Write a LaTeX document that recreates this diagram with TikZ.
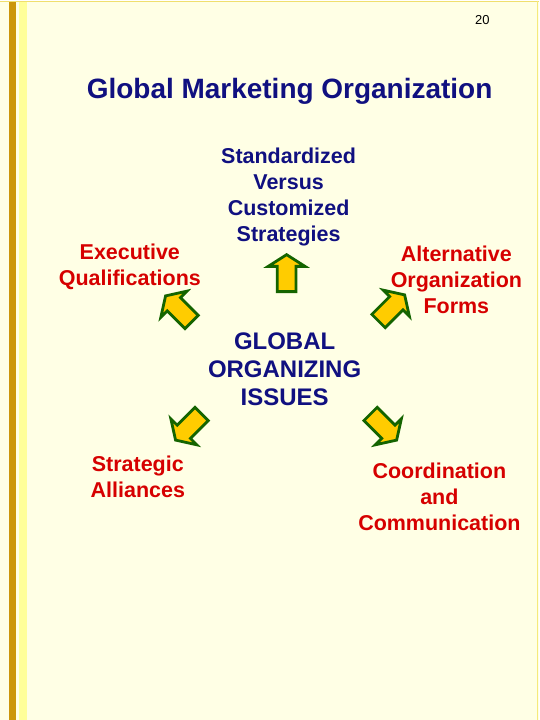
\documentclass[tikz,border=0pt]{standalone}
\usepackage{fontspec}
\setmainfont{Liberation Sans}
\usetikzlibrary{shapes.arrows, positioning}

\definecolor{slidebg}{RGB}{255,255,229}
\definecolor{stripegold}{RGB}{204,150,10}
\definecolor{stripelight}{RGB}{255,255,153}
\definecolor{textblue}{RGB}{16,16,128}
\definecolor{textred}{RGB}{214,0,0}
\definecolor{arrowfill}{RGB}{255,204,0}
\definecolor{arrowline}{RGB}{20,100,0}

\begin{document}
\begin{tikzpicture}[x = 1pt, y = -1pt, % pixel grid, y downwards
                inner sep = 0pt, align = center
            ]

            \tikzstyle{label}=[font = \bfseries\fontsize{21.5}{26}\selectfont]
            \tikzstyle{blockarrow}=[single arrow, draw = arrowline, fill = arrowfill,
            line width = 2.8pt, inner sep = 8pt, minimum height = 37pt,
            single arrow head extend = 9pt, single arrow tip angle = 115]

            % slide background and border stripes
            \fill[slidebg] (0,0) rectangle (540,720);
            \fill[stripegold] (9,0) rectangle (16,720);
            \fill[stripelight] (19,0) rectangle (27,720);
            \draw[stripelight!70!stripegold, line width = 1pt] (0.5,0.5) -- (539.5,0.5);
            \draw[stripelight!80!stripegold, line width = 1pt] (538,0) -- (538,720);

            \node (page) at (483,20) {\fontsize{13}{15}\selectfont 20};
            \node[textblue, font = \bfseries\fontsize{28}{32}\selectfont] (title) at (290,91)
            {Global Marketing Organization};

            \node[label, textblue, font = \bfseries\fontsize{24}{28}\selectfont] (hub)
            at (285,369) {GLOBAL\\ORGANIZING\\ISSUES};

            \node[label, textred] (exec) at (130,267) {Executive\\Qualifications};
            \node[label, textblue] (std) at (289,197) {Standardized\\Versus\\Customized\\Strategies};
            \node[label, textred] (alt) at (457,280) {Alternative\\Organization\\Forms};
            \node[label, textred] (ally) at (138,477) {Strategic\\Alliances};
            \node[label, textred] (coord) at (440,497) {Coordination\\and\\Communication};

            \node[blockarrow, rotate = 90] (up) at (287,276) {};
            \node[blockarrow, rotate = 135] (upleft) at (181,311) {};
            \node[blockarrow, rotate = 45] (upright) at (390,310) {};
            \node[blockarrow, rotate = 225] (downleft) at (191,425) {};
            \node[blockarrow, rotate = -45] (downright) at (382,425) {};

            \useasboundingbox (0,0) rectangle (540,720);
        \end{tikzpicture}
\end{document}
